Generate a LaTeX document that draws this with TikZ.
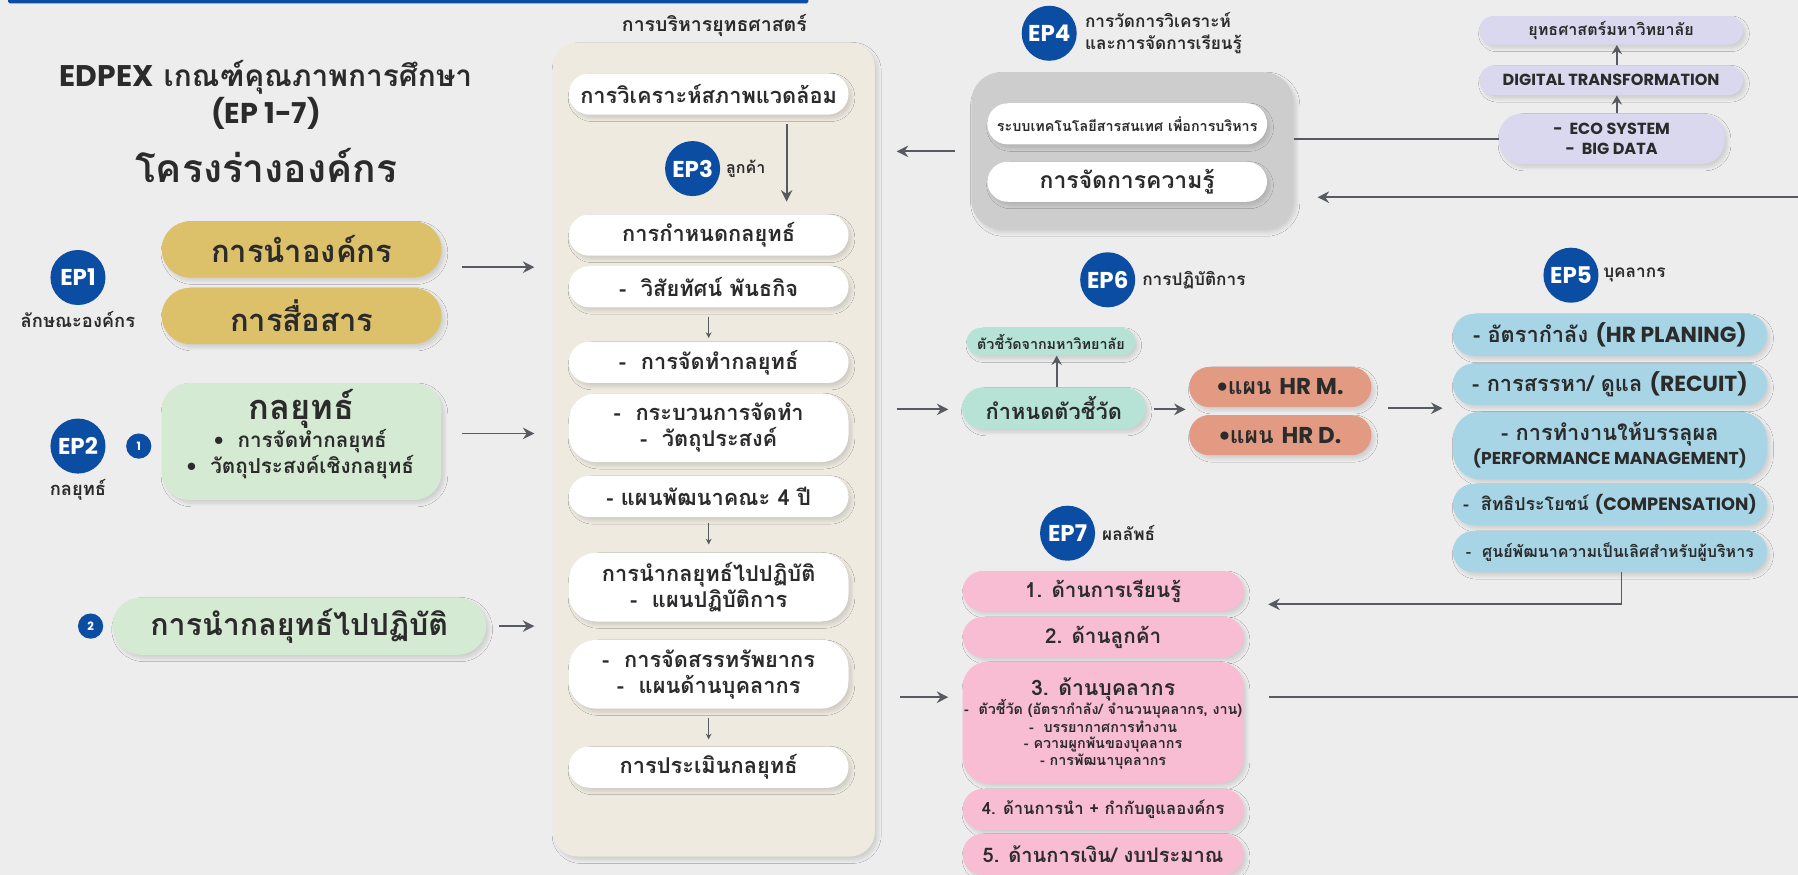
\documentclass[tikz,border=0pt]{standalone}
\usepackage{fontspec}
\setmainfont[Script=Thai]{Loma}
\newfontfamily\pop{Poppins}
\usetikzlibrary{arrows.meta,shadows.blur}
\definecolor{bgc}{HTML}{ECEDEC}
\definecolor{epblue}{HTML}{0B4DA2}
\definecolor{txt}{HTML}{2B2B2B}
\definecolor{gold}{HTML}{DCC06A}
\definecolor{lgreen}{HTML}{D5EAD3}
\definecolor{beige}{HTML}{EEEAE0}
\definecolor{gboxc}{HTML}{CECDCE}
\definecolor{lav}{HTML}{D9D8EF}
\definecolor{mint}{HTML}{B6E3D6}
\definecolor{salmon}{HTML}{E29A82}
\definecolor{lblue}{HTML}{A7D5E5}
\definecolor{pink}{HTML}{F8BDD2}
\definecolor{agray}{HTML}{575A61}
\newcommand\fz[2]{\fontsize{#1pt}{#2pt}\selectfont}
\tikzset{
 txtn/.style={inner sep=0pt, align=center, text=txt, font=\bfseries},
 sh/.style={blur shadow={shadow xshift=2.5pt, shadow yshift=-3pt, shadow blur radius=3pt, shadow blur steps=6, shadow opacity=13}},
 boxn/.style={txtn, sh, rectangle},
 wpill/.style={boxn, fill=white, minimum width=244pt, minimum height=36pt, rounded corners=18pt, font=\bfseries\fz{19}{23}},
 wpill2/.style={wpill, minimum height=60pt, rounded corners=24pt},
 epc/.style={circle, fill=epblue, minimum size=48pt, inner sep=0pt, text=white, font=\pop\bfseries\fz{20}{22}},
 numc/.style={circle, fill=epblue, minimum size=22pt, inner sep=0pt, text=white, font=\pop\bfseries\fz{10}{12}},
 eplab/.style={txtn, anchor=west, align=left, font=\bfseries\fz{15}{19}},
 arr/.style={draw=agray, line width=1.6pt, -{Stealth[length=10pt,width=10pt]}},
 marr/.style={draw=agray, line width=1.5pt, -{Stealth[length=8pt,width=9pt]}},
 sarr/.style={draw=agray, line width=0.8pt, -{Stealth[length=5pt,width=5pt]}},
 conn/.style={draw=agray, line width=1.6pt},
 lavp/.style={boxn, fill=lav, minimum width=230pt, minimum height=26pt, rounded corners=13pt, font=\bfseries\fz{14}{17}},
 bpill/.style={boxn, fill=lblue, minimum width=274pt, minimum height=36pt, rounded corners=18pt, font=\bfseries\fz{19}{21}},
 ppill/.style={boxn, fill=pink, minimum width=245pt, minimum height=35pt, rounded corners=17.5pt, font=\bfseries\fz{18}{21}},
}
\begin{document}
\begin{tikzpicture}[x=1pt,y=-1pt]
\fill[bgc] (0,0) rectangle (1568,763);
\useasboundingbox (0,0) rectangle (1568,763);
\fill[epblue, rounded corners=1.5pt] (7,-3) rectangle (705,3);

% ---------- title ----------
\node[txtn, font=\bfseries\fz{26}{30}] (title1) at (232,67) {{\pop EDPEX} เกณฑ์คุณภาพการศึกษา};
\node[txtn, font=\pop\bfseries\fz{25}{30}] (title2) at (232,99) {(EP 1-7)};
\node[txtn, font=\bfseries\fz{34}{38}] (title3) at (232,144) {โครงร่างองค์กร};

% ---------- EP1 / EP2 ----------
\node[epc] (ep1) at (68,242) {EP1};
\node[txtn, font=\bfseries\fz{16}{18}] (ep1l) at (68,279) {ลักษณะองค์กร};
\node[boxn, fill=gold, minimum width=244pt, minimum height=49pt, rounded corners=24.5pt, font=\bfseries\fz{27}{30}] (lead) at (263,217.5) {การนำองค์กร};
\node[boxn, fill=gold, minimum width=244pt, minimum height=49pt, rounded corners=24.5pt, font=\bfseries\fz{27}{30}] (comm) at (263,275.5) {การสื่อสาร};

\node[epc] (ep2) at (68,389) {EP2};
\node[txtn, font=\bfseries\fz{16}{18}] (ep2l) at (68,427) {กลยุทธ์};
\node[numc] (n1) at (121,389) {1};
\node[boxn, fill=lgreen, minimum width=244pt, minimum height=102pt, rounded corners=24pt] (strat) at (263,385) {};
\node[txtn, font=\bfseries\fz{30}{32}] (stratt) at (263,357) {กลยุทธ์};
\node[txtn, font=\bfseries\fz{18}{22}] (strat1) at (262,385) {•\ \ การจัดทำกลยุทธ์};
\node[txtn, font=\bfseries\fz{18}{22}] (strat2) at (262,407) {•\ \ วัตถุประสงค์เชิงกลยุทธ์};

\node[numc] (n2) at (79,546) {2};
\node[boxn, fill=lgreen, minimum width=326pt, minimum height=50pt, rounded corners=25pt, font=\bfseries\fz{26.5}{30}] (impl) at (261,546) {การนำกลยุทธ์ไปปฏิบัติ};

\coordinate (a1s) at (403,233); \coordinate (a1e) at (466,233);
\coordinate (a2s) at (403,378); \coordinate (a2e) at (466,378);
\coordinate (a3s) at (435,546); \coordinate (a3e) at (466,546);
\draw[arr] (a1s) -- (a1e);
\draw[arr] (a2s) -- (a2e);
\draw[arr] (a3s) -- (a3e);

% ---------- strategic management panel ----------
\node[txtn, font=\bfseries\fz{17}{20}] (ptitle) at (623,22) {การบริหารยุทธศาสตร์};
\node[boxn, fill=beige, minimum width=281pt, minimum height=710pt, rounded corners=22pt] (panel) at (622.5,392) {};
\node[wpill] (wp1) at (618,82) {การวิเคราะห์สภาพแวดล้อม};
\node[epc] (ep3) at (604,147) {EP3};
\node[eplab, font=\bfseries\fz{14}{16}] (ep3l) at (633,147) {ลูกค้า};
\node[wpill] (wp2) at (618,205) {การกำหนดกลยุทธ์};
\node[wpill] (wp3) at (618,250) {-\ \ วิสัยทัศน์ พันธกิจ};
\node[wpill] (wp4) at (618,316) {-\ \ การจัดทำกลยุทธ์};
\node[wpill2] (wp5) at (618,373) {-\ \ กระบวนการจัดทำ\\-\ \ วัตถุประสงค์};
\node[wpill] (wp6) at (618,433) {- แผนพัฒนาคณะ 4 ปี};
\node[wpill2] (wp7) at (618,512) {การนำกลยุทธ์ไปปฏิบัติ\\-\ \ แผนปฏิบัติการ};
\node[wpill2] (wp8) at (618,588) {-\ \ การจัดสรรทรัพยากร\\-\ \ แผนด้านบุคลากร};
\node[wpill] (wp9) at (618,669) {การประเมินกลยุทธ์};
\draw[arr] ([xshift=68pt,yshift=-8pt]wp1.south) -- ([xshift=68pt,yshift=11pt]wp2.north);
\draw[sarr] ([yshift=-8pt]wp3.south) -- ([yshift=3pt]wp4.north);
\draw[sarr] ([yshift=-5pt]wp6.south) -- ([yshift=7pt]wp7.north);
\draw[sarr] ([yshift=-8pt]wp8.south) -- ([yshift=6pt]wp9.north);

% ---------- EP4 ----------
\node[epc] (ep4) at (915,29) {EP4};
\node[eplab] (ep4l) at (946,28.5) {การวัดการวิเคราะห์\\และการจัดการเรียนรู้};
\node[boxn, fill=gboxc, minimum width=281pt, minimum height=137pt, rounded corners=26pt] (gbox) at (987.5,131.5) {};
\node[wpill, font=\bfseries\fz{12.5}{15}] (ip1) at (983,108) {ระบบเทคโนโลยีสารสนเทศ เพื่อการบริหาร};
\node[wpill, font=\bfseries\fz{20}{23}, minimum height=35pt] (ip2) at (983,158.5) {การจัดการความรู้};
\coordinate (a4s) at (833,132); \coordinate (a4e) at (782,132);
\draw[arr] (a4s) -- (a4e);
\coordinate (redge1) at (1568,172); \coordinate (a5e) at (1149,172);
\draw[arr] (redge1) -- (a5e);

% ---------- university strategy ----------
\node[lavp, minimum height=25pt, rounded corners=12.5pt] (uni) at (1405,26.5) {ยุทธศาสตร์มหาวิทยาลัย};
\node[lavp, font=\pop\bfseries\fz{14}{17}] (dt) at (1405,70) {DIGITAL TRANSFORMATION};
\node[lavp, minimum width=197pt, minimum height=44pt, rounded corners=20pt, font=\pop\bfseries\fz{14}{17}] (eco) at (1405.5,121) {-\ \ ECO SYSTEM\\-\ \ BIG DATA};
\draw[marr] ([xshift=5pt]dt.north) -- ([xshift=5pt]uni.south);
\draw[marr] ([xshift=4.5pt]eco.north) -- ([xshift=5pt]dt.south);
\draw[conn] (gbox.east |- eco.west) -- (eco.west);

% ---------- EP6 ----------
\node[epc] (ep6) at (966,244) {EP6};
\node[eplab] (ep6l) at (996,244) {การปฏิบัติการ};
\node[boxn, fill=mint, minimum width=147pt, minimum height=24pt, rounded corners=12pt, font=\bfseries\fz{12.5}{15}] (unikpi) at (916.5,298) {ตัวชี้วัดจากมหาวิทยาลัย};
\node[boxn, fill=mint, minimum width=160pt, minimum height=36pt, rounded corners=18pt, font=\bfseries\fz{19}{22}] (kpi) at (919,356) {กำหนดตัวชี้วัด};
\draw[marr] ([xshift=2.5pt]kpi.north) -- ([xshift=5pt]unikpi.south);
\node[boxn, fill=salmon, minimum width=159pt, minimum height=35pt, rounded corners=17.5pt, font=\bfseries\fz{20}{23}] (hrm) at (1116.5,337.5) {•แผน {\pop HR M.}};
\node[boxn, fill=salmon, minimum width=159pt, minimum height=35pt, rounded corners=17.5pt, font=\bfseries\fz{20}{23}] (hrd) at (1116.5,379.5) {•แผน {\pop HR D.}};
\coordinate (a6s) at (782,357); \coordinate (a6e) at (827,357);
\draw[arr] (a6s) -- (a6e);
\coordinate (a7s) at (1006,357); \coordinate (a7e) at (1034,357);
\draw[arr] (a7s) -- (a7e);
\coordinate (a8s) at (1210,356); \coordinate (a8e) at (1258,356);
\draw[arr] (a8s) -- (a8e);

% ---------- EP5 ----------
\node[epc] (ep5) at (1370,240) {EP5};
\node[eplab] (ep5l) at (1398,240) {บุคลากร};
\node[bpill, minimum height=36.5pt] (b1) at (1404,292) {- อัตรากำลัง {\pop (HR PLANING)}};
\node[bpill] (b2) at (1404,335) {- การสรรหา/ ดูแล {\pop (RECUIT)}};
\node[bpill, minimum height=59pt, rounded corners=24pt, font=\bfseries\fz{19}{21}] (b3) at (1404,388.5) {- การทำงานให้บรรลุผล\\{\pop\fz{15}{19}(PERFORMANCE MANAGEMENT)}};
\node[bpill, font=\bfseries\fz{15.5}{19}] (b4) at (1404,440) {-\ \ สิทธิประโยชน์ {\pop (COMPENSATION)}};
\node[bpill, font=\bfseries\fz{14}{17}] (b5) at (1404,481) {-\ \ ศูนย์พัฒนาความเป็นเลิศสำหรับผู้บริหาร};
\coordinate (a9e) at (1106,527);
\draw[arr] ([xshift=10pt]b5.south) |- (a9e);

% ---------- EP7 ----------
\node[epc] (ep7) at (931,465) {EP7};
\node[eplab] (ep7l) at (961,465) {ผลลัพธ์};
\node[ppill] (p1) at (962,515.5) {1. ด้านการเรียนรู้};
\node[ppill] (p2) at (962,555.5) {2. ด้านลูกค้า};
\node[ppill, minimum height=106pt, rounded corners=22pt] (p3) at (962,630) {};
\node[txtn, font=\bfseries\fz{18.5}{22}] (p3t) at (962,601.5) {3. ด้านบุคลากร};
\node[txtn, font=\bfseries\fz{12.5}{15}] (p3a) at (962,618) {-\ \ ตัวชี้วัด (อัตรากำลัง/ จำนวนบุคลากร, งาน)};
\node[txtn, font=\bfseries\fz{12.5}{15}] (p3b) at (962,634) {-\ \ บรรยากาศการทำงาน};
\node[txtn, font=\bfseries\fz{12.5}{15}] (p3c) at (962,649) {- ความผูกพันของบุคลากร};
\node[txtn, font=\bfseries\fz{12.5}{15}] (p3d) at (962,664.5) {- การพัฒนาบุคลากร};
\node[ppill, minimum height=36pt, font=\bfseries\fz{14.5}{18}] (p4) at (962,706) {4. ด้านการนำ + กำกับดูแลองค์กร};
\node[ppill, minimum height=36pt, font=\bfseries\fz{17.5}{20}] (p5) at (962,745) {5. ด้านการเงิน/ งบประมาณ};
\coordinate (a10s) at (785,608); \coordinate (a10e) at (827,608);
\draw[arr] (a10s) -- (a10e);
\coordinate (redge2) at (1568,608);
\draw[conn] ([xshift=22pt]p3.east |- redge2) -- (redge2);
\end{tikzpicture}
\end{document}
